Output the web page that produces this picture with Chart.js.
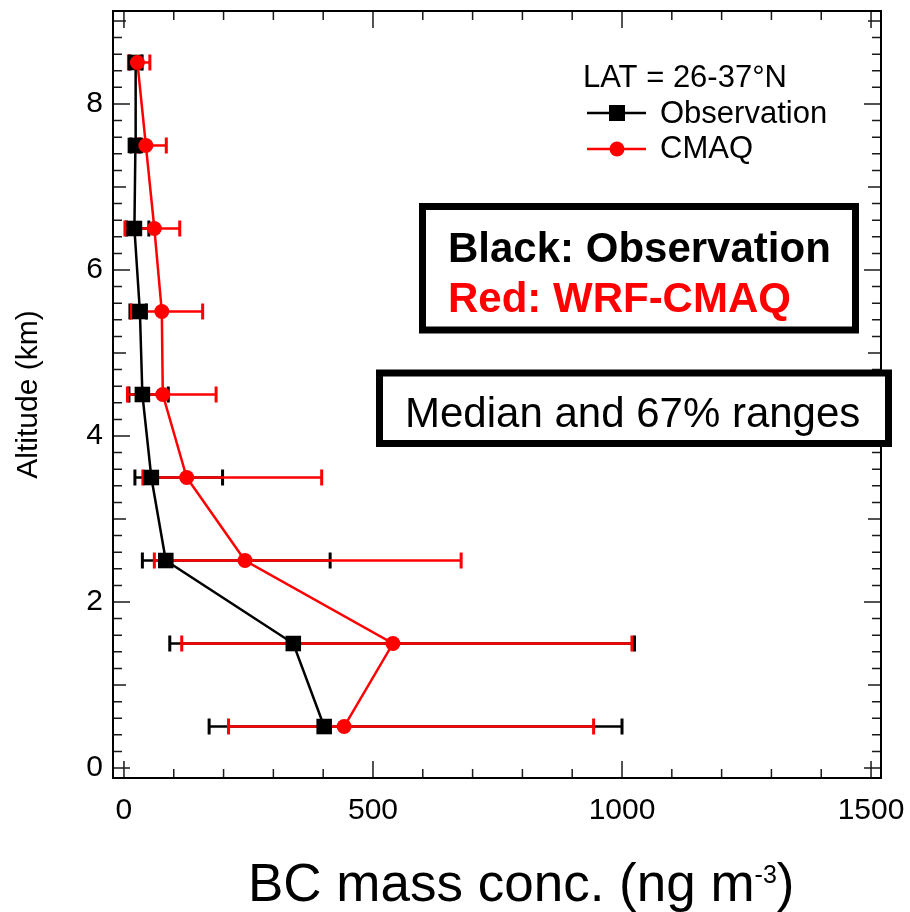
<!DOCTYPE html>
<html>
<head>
<meta charset="utf-8">
<script src="https://cdn.jsdelivr.net/npm/chart.js@4"></script>
<style>
  body { margin: 0; background: #ffffff; }
  #wrap { width: 910px; height: 912px; }
</style>
</head>
<body>
<div id="wrap"><canvas id="myChart" width="910" height="912"></canvas></div>
<script>
// altitude bins (km) and BC values (ng m-3)
const altitude = [0.5, 1.5, 2.5, 3.5, 4.5, 5.5, 6.5, 7.5, 8.5];
const obsMedian = [402, 340, 84, 55, 37, 32, 21, 23, 23.5];
const obsLow = [171, 92, 37, 22, 10, 12, 5, 14, 12];
const obsHigh = [1000, 1025, 414, 198, 89, 45, 50, 32, 36];
const cmaqMedian = [442, 540, 243, 126, 78, 76, 61, 44, 27];
const cmaqLow = [210, 116, 61, 38, 7, 15, 2, 28, 9];
const cmaqHigh = [943, 1020, 677, 397, 185, 158, 112, 85, 52];

const xTickLabels = [0, 500, 1000, 1500];
const yTickLabels = [0, 2, 4, 6, 8];

const font = "'Liberation Sans', Arial, sans-serif";
const red = "#ff0000";

function points(values) {
  return altitude.map((a, i) => ({ x: values[i], y: a }));
}

// 67% range bars with end caps
function drawRange(ctx, xs, ys, low, high, color) {
  ctx.save();
  ctx.strokeStyle = color;
  altitude.forEach((a, i) => {
    const y = ys.getPixelForValue(a);
    const x0 = xs.getPixelForValue(low[i]);
    const x1 = xs.getPixelForValue(high[i]);
    ctx.lineWidth = 2.5;
    ctx.beginPath();
    ctx.moveTo(x0, y);
    ctx.lineTo(x1, y);
    ctx.stroke();
    ctx.lineWidth = 3;
    ctx.beginPath();
    ctx.moveTo(x0, y - 8);
    ctx.lineTo(x0, y + 8);
    ctx.moveTo(x1, y - 8);
    ctx.lineTo(x1, y + 8);
    ctx.stroke();
  });
  ctx.restore();
}

const rangePlugin = {
  id: "ranges",
  beforeDatasetsDraw(chart) {
    const { ctx, scales } = chart;
    drawRange(ctx, scales.x, scales.y, obsLow, obsHigh, "#000000");
    drawRange(ctx, scales.x, scales.y, cmaqLow, cmaqHigh, red);
  },
};

// frame with inward ticks on all four sides, titles, legend and notes
const framePlugin = {
  id: "frame",
  afterDraw(chart) {
    const { ctx, chartArea: a, scales } = chart;
    const xs = scales.x;
    const ys = scales.y;
    ctx.save();

    ctx.strokeStyle = "#1a1a1a";
    ctx.lineWidth = 1.5;
    ctx.beginPath();
    for (let v = 0; v <= 1500; v += 100) {
      const px = xs.getPixelForValue(v);
      const len = v % 500 == 0 ? 17 : 9;
      ctx.moveTo(px, a.bottom);
      ctx.lineTo(px, a.bottom - len);
      ctx.moveTo(px, a.top);
      ctx.lineTo(px, a.top + len);
    }
    for (let k = 0; k <= 45; k++) {
      const py = ys.getPixelForValue(k * 0.2);
      let len = 9;
      if (k % 10 == 0) len = 17;
      else if (k % 5 == 0) len = 13;
      ctx.moveTo(a.left, py);
      ctx.lineTo(a.left + len, py);
      ctx.moveTo(a.right, py);
      ctx.lineTo(a.right - len, py);
    }
    ctx.stroke();

    ctx.strokeStyle = "#000000";
    ctx.lineWidth = 2;
    ctx.strokeRect(a.left, a.top, a.right - a.left, a.bottom - a.top);

    ctx.fillStyle = "#000000";

    // y axis title
    ctx.save();
    ctx.translate(37, (a.top + a.bottom) / 2);
    ctx.rotate(-Math.PI / 2);
    ctx.font = "30px " + font;
    ctx.textAlign = "center";
    ctx.textBaseline = "alphabetic";
    ctx.fillText("Altitude (km)", 0, 0);
    ctx.restore();

    // x axis title with superscript
    ctx.textAlign = "left";
    ctx.textBaseline = "alphabetic";
    ctx.font = "53px " + font;
    let tx = 248;
    const main = "BC mass conc. (ng m";
    ctx.fillText(main, tx, 901);
    tx += ctx.measureText(main).width;
    ctx.font = "25px " + font;
    ctx.fillText("-3", tx, 883);
    tx += ctx.measureText("-3").width;
    ctx.font = "53px " + font;
    ctx.fillText(")", tx, 901);

    // legend
    ctx.font = "31px " + font;
    ctx.fillText("LAT = 26-37\u00b0N", 583, 87);
    ctx.fillText("Observation", 660, 123);
    ctx.fillText("CMAQ", 660, 158);
    ctx.lineWidth = 2.5;
    ctx.strokeStyle = "#000000";
    ctx.beginPath();
    ctx.moveTo(587, 113);
    ctx.lineTo(646, 113);
    ctx.stroke();
    ctx.fillRect(617 - 8, 113 - 8, 16, 16);
    ctx.strokeStyle = red;
    ctx.fillStyle = red;
    ctx.beginPath();
    ctx.moveTo(587, 149);
    ctx.lineTo(646, 149);
    ctx.stroke();
    ctx.beginPath();
    ctx.arc(617, 149, 7.5, 0, Math.PI * 2);
    ctx.fill();

    // colour note box
    ctx.strokeStyle = "#000000";
    ctx.lineWidth = 7;
    ctx.strokeRect(422.5, 206.5, 433, 123.5);
    ctx.font = "bold 42px " + font;
    ctx.fillStyle = "#000000";
    ctx.fillText("Black: Observation", 448, 262);
    ctx.fillStyle = red;
    ctx.fillText("Red: WRF-CMAQ", 448, 312);

    // statistics note box
    ctx.fillStyle = "#ffffff";
    ctx.fillRect(380, 376, 508, 64);
    ctx.strokeStyle = "#000000";
    ctx.strokeRect(379.5, 373, 509, 70.5);
    ctx.font = "42px " + font;
    ctx.fillStyle = "#000000";
    ctx.fillText("Median and 67% ranges", 405, 427);

    ctx.restore();
  },
};

let config = {
  type: "line",
  data: {
    datasets: [
      {
        label: "Observation",
        data: points(obsMedian),
        borderColor: "#000000",
        backgroundColor: "#000000",
        borderWidth: 2.5,
        pointStyle: "rect",
        pointRadius: 11,
        pointBorderWidth: 0,
        pointHoverRadius: 11,
        tension: 0,
        order: 2,
      },
      {
        label: "CMAQ",
        data: points(cmaqMedian),
        borderColor: red,
        backgroundColor: red,
        borderWidth: 2.5,
        pointStyle: "circle",
        pointRadius: 7.5,
        pointBorderWidth: 0,
        pointHoverRadius: 7.5,
        tension: 0,
        order: 1,
      },
    ],
  },
  options: {
    responsive: false,
    animation: false,
    devicePixelRatio: 1,
    layout: {
      padding: { top: 11, right: 29, left: 0, bottom: 0 },
    },
    plugins: {
      legend: { display: false },
      tooltip: { enabled: false },
    },
    scales: {
      x: {
        type: "linear",
        min: -22,
        max: 1520,
        grid: { display: false, drawTicks: false },
        border: { display: false },
        ticks: {
          color: "#000000",
          padding: 15,
          maxRotation: 0,
          font: { family: font, size: 30 },
          callback: (value) => String(value),
        },
        afterBuildTicks: (scale) => {
          scale.ticks = xTickLabels.map((v) => ({ value: v }));
        },
        afterFit: (scale) => {
          scale.height = 134;
          scale.paddingLeft = 0;
          scale.paddingRight = 0;
        },
      },
      y: {
        type: "linear",
        min: -0.12,
        max: 9.12,
        grid: { display: false, drawTicks: false },
        border: { display: false },
        ticks: {
          color: "#000000",
          padding: 10,
          font: { family: font, size: 30 },
          callback: (value) => String(value),
        },
        afterBuildTicks: (scale) => {
          scale.ticks = yTickLabels.map((v) => ({ value: v }));
        },
        afterFit: (scale) => {
          scale.width = 113;
          scale.paddingTop = 0;
          scale.paddingBottom = 0;
        },
      },
    },
  },
  plugins: [rangePlugin, framePlugin],
};

window.onload = function () {
  let ctx = document.getElementById("myChart").getContext("2d");
  window.myLine = new Chart(ctx, config);
};
</script>
</body>
</html>
